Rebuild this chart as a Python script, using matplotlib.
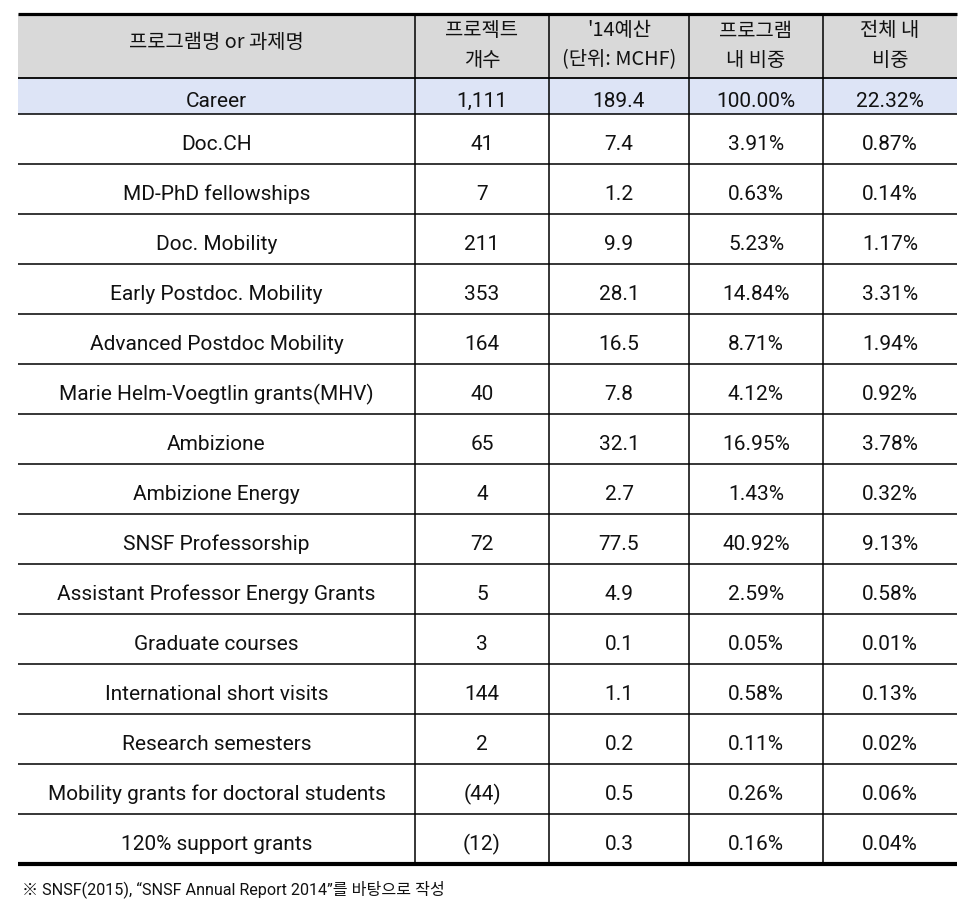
import matplotlib
matplotlib.use("Agg")
import matplotlib.pyplot as plt
from matplotlib import font_manager
from matplotlib.patches import Rectangle

# table content
headers = [["프로그램명 or 과제명"], ["프로젝트", "개수"], ["'14예산", "(단위: MCHF)"],
	["프로그램", "내 비중"], ["전체 내", "비중"]]
programs = ["Career", "Doc.CH", "MD-PhD fellowships", "Doc. Mobility", "Early Postdoc. Mobility",
	"Advanced Postdoc Mobility", "Marie Helm-Voegtlin grants(MHV)", "Ambizione", "Ambizione Energy",
	"SNSF Professorship", "Assistant Professor Energy Grants", "Graduate courses",
	"International short visits", "Research semesters", "Mobility grants for doctoral students",
	"120% support grants"]
project_counts = ["1,111", "41", "7", "211", "353", "164", "40", "65", "4", "72", "5", "3", "144",
	"2", "(44)", "(12)"]
budget_mchf = [189.4, 7.4, 1.2, 9.9, 28.1, 16.5, 7.8, 32.1, 2.7, 77.5, 4.9, 0.1, 1.1, 0.2, 0.5, 0.3]
share_in_program = [100.00, 3.91, 0.63, 5.23, 14.84, 8.71, 4.12, 16.95, 1.43, 40.92, 2.59, 0.05,
	0.58, 0.11, 0.26, 0.16]
share_in_total = [22.32, 0.87, 0.14, 1.17, 3.31, 1.94, 0.92, 3.78, 0.32, 9.13, 0.58, 0.01, 0.13,
	0.02, 0.06, 0.04]
footnote = "※ SNSF(2015), \u201cSNSF Annual Report 2014\u201d를 바탕으로 작성"

# layout in pixels
W, H = 971, 916
col_edges = [18, 415, 549, 689, 823, 957]
header_top, header_bottom, first_row_bottom, row_h = 14, 78, 114, 50

installed = {f.name for f in font_manager.fontManager.ttflist}
if "Liberation Sans Narrow" in installed:
	body_font, body_size = "Liberation Sans Narrow", 18.5
else:
	body_font, body_size = "Roboto", 15
kr_font = "Noto Sans CJK KR"

fig = plt.figure(figsize=(W / 100, H / 100), dpi=100)
ax = fig.add_axes([0, 0, 1, 1])
ax.set_xlim(0, W)
ax.set_ylim(H, 0)
ax.axis("off")

row_tops = [header_bottom] + [first_row_bottom + i * row_h for i in range(len(programs) - 1)]
row_bottoms = [first_row_bottom + i * row_h for i in range(len(programs))]
table_bottom = row_bottoms[-1]

# fills
ax.add_patch(Rectangle((col_edges[0], header_top), col_edges[-1] - col_edges[0],
	header_bottom - header_top, facecolor="#d9d9d9", edgecolor="none"))
ax.add_patch(Rectangle((col_edges[0], header_bottom), col_edges[-1] - col_edges[0],
	first_row_bottom - header_bottom, facecolor="#dde4f6", edgecolor="none"))

# header text
header_mid = (header_top + header_bottom) / 2
for j, lines in enumerate(headers):
	cx = (col_edges[j] + col_edges[j + 1]) / 2
	if len(lines) == 1:
		ax.text(cx, header_mid - 3, lines[0], ha="center", va="center", fontsize=14.3,
			family=kr_font, color="#111111")
	else:
		for k, line in enumerate(lines):
			ax.text(cx, 31 + k * 29, line, ha="center", va="center", fontsize=14.3,
				family=kr_font, color="#111111")

# body text
for i, name in enumerate(programs):
	base = (row_tops[i] + row_bottoms[i]) / 2 + 11
	cells = [name, project_counts[i], f"{budget_mchf[i]:.1f}", f"{share_in_program[i]:.2f}%",
		f"{share_in_total[i]:.2f}%"]
	for j, txt in enumerate(cells):
		cx = (col_edges[j] + col_edges[j + 1]) / 2
		ax.text(cx, base, txt, ha="center", va="baseline", fontsize=body_size,
			family=body_font, color="#111111")

# grid lines
for y in row_bottoms[:-1]:
	ax.hlines(y, col_edges[0], col_edges[-1], color="black", lw=1.1, capstyle="butt")
ax.hlines(header_bottom, col_edges[0], col_edges[-1], color="black", lw=1.3, capstyle="butt")
for x in col_edges[1:-1]:
	ax.vlines(x, header_top, table_bottom, color="black", lw=1.1, capstyle="butt")
ax.hlines(header_top, col_edges[0], col_edges[-1], color="black", lw=2.3, capstyle="butt")
ax.hlines(table_bottom, col_edges[0], col_edges[-1], color="black", lw=3.0, capstyle="butt")

ax.text(22, 889, footnote, ha="left", va="center", fontsize=11.6,
	family=[body_font, kr_font], color="#111111")

fig.savefig("out.png", dpi=100)
